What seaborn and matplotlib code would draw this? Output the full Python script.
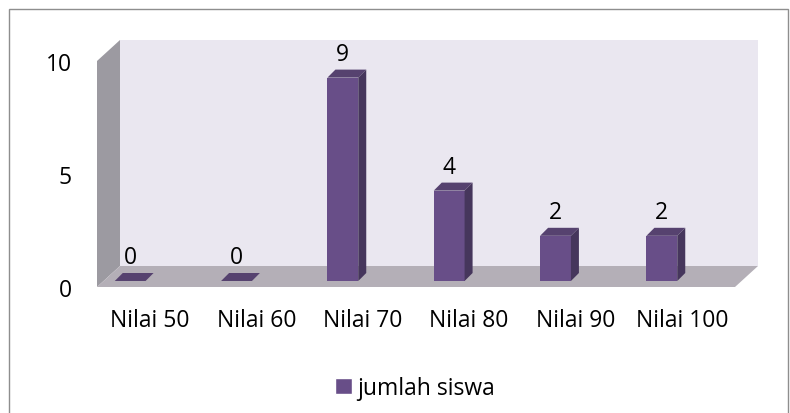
import numpy as np
import seaborn as sns
import matplotlib.pyplot as plt
import matplotlib.transforms as mtransforms
from matplotlib.patches import Rectangle, Polygon, Patch

# Data
categories = ['Nilai 50', 'Nilai 60', 'Nilai 70', 'Nilai 80', 'Nilai 90', 'Nilai 100']
jumlah_siswa = [0, 0, 9, 4, 2, 2]
y_ticks = [0, 5, 10]
series_label = 'jumlah siswa'

# colours of the fake 3D look
FRONT = '#684E88'
SIDE = '#46365C'
TOP = '#56426F'
WALL_BACK = '#EAE7F0'
WALL_LEFT = '#9C9AA1'
FLOOR = '#B4AFB7'
FS = 16.5


def main():
    sns.set_style('white')
    plt.rcParams['font.family'] = ['Open Sans', 'DejaVu Sans']
    plt.rcParams['text.color'] = 'black'

    W, H = 790, 414
    fig = plt.figure(figsize=(W / 100, H / 100), dpi=100)
    # axes = front plane of the 3D box
    ax = fig.add_axes([97 / W, 1 - 288 / H, (735 - 97) / W, (288 - 62) / H])

    sns.barplot(x=categories, y=jumlah_siswa, color=FRONT, saturation=1,
                width=0.29, linewidth=0, ax=ax, zorder=3)
    bars = list(ax.patches)

    ax.set_xlim(-0.5, 5.5)
    ax.set_ylim(0, 10)
    ax.set_yticks(y_ticks)
    ax.set_xlabel('')
    ax.set_ylabel('')
    ax.patch.set_alpha(0)
    for s in ax.spines.values():
        s.set_visible(False)
    ax.tick_params(axis='both', length=0, labelsize=FS, labelcolor='black')
    ax.tick_params(axis='y', pad=18)
    ax.tick_params(axis='x', pad=15)

    def px_to_data(dx, dy):
        p0 = ax.transData.transform((0, 0))
        return ax.transData.inverted().transform(p0 + np.array([dx, dy]))

    # walls and floor
    wdx, wdy = px_to_data(23, 21)
    x0, x1 = ax.get_xlim()
    y0, y1 = ax.get_ylim()
    ax.add_patch(Rectangle((x0 + wdx, y0 + wdy), x1 - x0, y1 - y0, fc=WALL_BACK,
                           ec='none', zorder=0, clip_on=False))
    ax.add_patch(Polygon([(x0, y0), (x0, y1), (x0 + wdx, y1 + wdy), (x0 + wdx, y0 + wdy)],
                         fc=WALL_LEFT, ec='none', zorder=1, clip_on=False))
    ax.add_patch(Polygon([(x0, y0), (x1, y0), (x1 + wdx, y0 + wdy), (x0 + wdx, y0 + wdy)],
                         fc=FLOOR, ec='none', zorder=1, clip_on=False))

    # bars: shift them back into the box and give them depth
    shift = ax.transData + mtransforms.ScaledTranslation(-0.20, 0.06, fig.dpi_scale_trans)
    label_shift = shift + mtransforms.ScaledTranslation(0, 0.18, fig.dpi_scale_trans)
    bdx, bdy = px_to_data(8, 8)
    for bar in bars:
        bar.set_transform(shift)
        bar.set_clip_on(False)
        bx, bw, bh = bar.get_x(), bar.get_width(), bar.get_height()
        ax.add_patch(Polygon([(bx, bh), (bx + bw, bh), (bx + bw + bdx, bh + bdy), (bx + bdx, bh + bdy)],
                             fc=TOP, ec='none', zorder=3, transform=shift, clip_on=False))
        ax.add_patch(Polygon([(bx + bw, 0), (bx + bw + bdx, bdy), (bx + bw + bdx, bh + bdy), (bx + bw, bh)],
                             fc=SIDE, ec='none', zorder=3, transform=shift, clip_on=False))
        ax.text(bx + bw / 2, bh, f'{bh:.0f}', transform=label_shift, ha='center',
                va='baseline', fontsize=FS, color='black')

    fig.legend(handles=[Patch(facecolor=FRONT, label=series_label)], loc='center',
               bbox_to_anchor=(415 / W, 1 - 389 / H), frameon=False, fontsize=FS,
               handlelength=0.75, handleheight=0.75, handletextpad=0.25)

    # outer chart border
    fig.add_artist(Rectangle((9 / W, -0.05), (788 - 9) / W, (H - 10) / H + 0.05,
                             transform=fig.transFigure, fill=False, ec='#8E8E8E', lw=1))

    fig.savefig('out.png', dpi=100)


if __name__ == "__main__":
    main()
